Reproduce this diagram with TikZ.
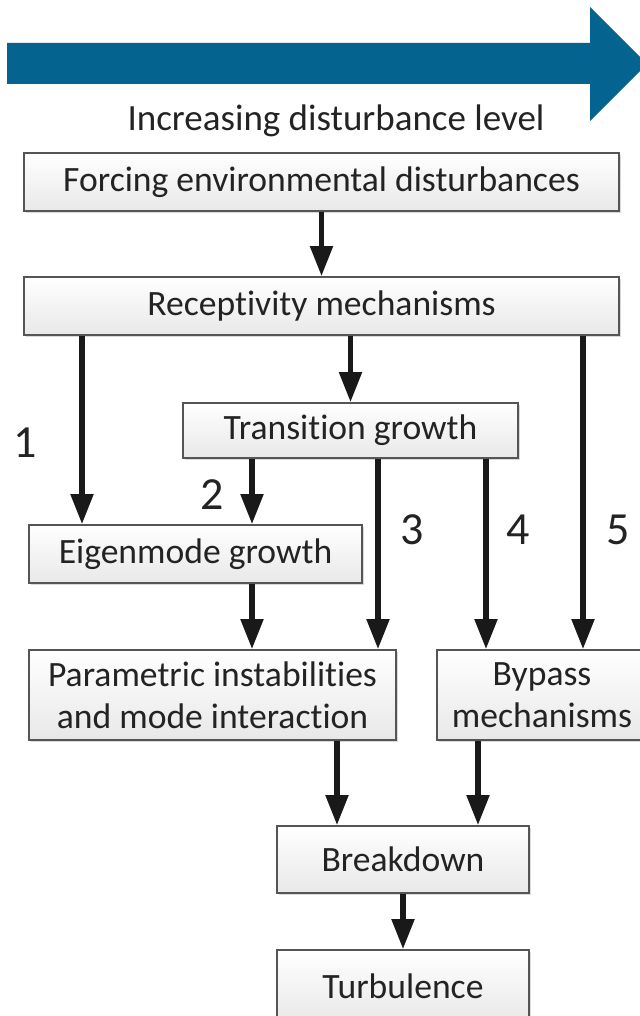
\documentclass[tikz,border=0pt]{standalone}
\usepackage{fontspec}
\setmainfont{Carlito}[Ligatures=NoCommon]
\usetikzlibrary{arrows.meta,shadows}

\definecolor{arrowblue}{RGB}{5,99,143}
\definecolor{boxline}{RGB}{85,85,85}
\definecolor{boxtext}{RGB}{35,35,35}

\begin{document}
\begin{tikzpicture}[x=0.5pt, y=0.5pt,
    box/.style={draw=boxline, line width=0.9pt, top color=white, bottom color=gray!18,
      text=boxtext, font=\fontsize{17.8}{21}\selectfont, align=center, inner sep=0pt,
      drop shadow={shadow xshift=0.8pt, shadow yshift=-0.8pt, opacity=0.3}},
    flow/.style={line width=2.6pt, draw=black!90, -{Triangle[length=15pt,width=11pt]}},
    num/.style={text=boxtext, font=\fontsize{23}{26}\selectfont}]
  \useasboundingbox (0,0) rectangle (639,-1016);

  % Big arrow on top
  \fill[arrowblue] (7,-43) -- (590,-43) -- (590,-7) -- (647,-64)
    -- (590,-121) -- (590,-84) -- (7,-84) -- cycle;
  \node[text=boxtext, font=\fontsize{18.5}{22}\selectfont] (title) at (336,-121) {Increasing disturbance level};

  % Boxes
  \node[box, minimum width=297.5pt, minimum height=29pt] (forcing) at (321.5,-182) {Forcing environmental disturbances};
  \node[box, minimum width=297.5pt, minimum height=29pt] (recep) at (321.5,-306) {Receptivity mechanisms};
  \node[box, minimum width=167.5pt, minimum height=27.5pt] (trans) at (350.5,-430.5) {Transition growth};
  \node[box, minimum width=166.5pt, minimum height=29pt] (eigen) at (195.5,-554) {Eigenmode growth};
  \node[box, minimum width=183.5pt, minimum height=45pt] (param) at (212.5,-695) {Parametric instabilities\\and mode interaction};
  \node[box, minimum width=105pt, minimum height=45pt] (bypass) at (542,-695) {Bypass\\mechanisms};
  \node[box, minimum width=126pt, minimum height=33.5pt] (breakdown) at (403,-859.5) {Breakdown};
  \node[box, minimum width=126pt, minimum height=36pt] (turb) at (403,-986) {Turbulence};

  % Columns of the paths
  \coordinate (c1) at (82,0);
  \coordinate (c2) at (252,0);
  \coordinate (c3) at (378,0);
  \coordinate (c4) at (486,0);
  \coordinate (c5) at (583,0);
  \coordinate (cp) at (337,0);
  \coordinate (cb) at (478,0);

  % Arrows
  \draw[flow] (forcing) -- (recep);
  \draw[flow] (recep.south -| trans.north) -- (trans.north);
  \draw[flow] (recep.south -| c1) -- (eigen.north -| c1);
  \draw[flow] (recep.south -| c5) -- (bypass.north -| c5);
  \draw[flow] (trans.south -| c2) -- (eigen.north -| c2);
  \draw[flow] (trans.south -| c3) -- (param.north -| c3);
  \draw[flow] (trans.south -| c4) -- (bypass.north -| c4);
  \draw[flow] (eigen.south -| c2) -- (param.north -| c2);
  \draw[flow] (param.south -| cp) -- (breakdown.north -| cp);
  \draw[flow] (bypass.south -| cb) -- (breakdown.north -| cb);
  \draw[flow] (breakdown) -- (turb);

  % Path numbers
  \node[num] (lab1) at (25,-443) {1};
  \node[num] (lab2) at (212,-495) {2};
  \node[num] (lab3) at (412,-530) {3};
  \node[num] (lab4) at (518,-530) {4};
  \node[num] (lab5) at (618,-530) {5};
\end{tikzpicture}
\end{document}
